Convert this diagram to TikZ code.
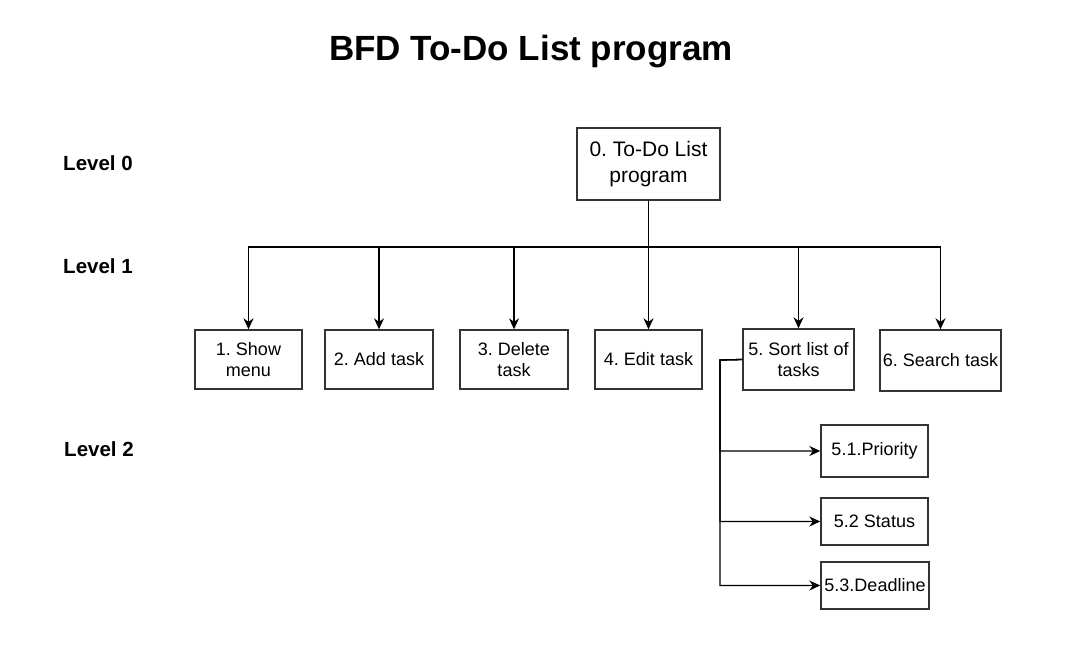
\documentclass[tikz,border=0pt]{standalone}
\usepackage{fontspec}
\setmainfont{Liberation Sans}
\usetikzlibrary{arrows.meta}
\begin{document}
\frenchspacing
\begin{tikzpicture}[x=1pt,y=-1pt,
  box/.style={draw=black!80, line width=1.4pt, fill=white, align=center, inner sep=0pt,
     font=\fontsize{18}{21}\selectfont},
  arr/.style={draw=black, line width=1.3pt, -{Stealth[length=11pt,width=10pt]}},
  lvl/.style={font=\fontsize{20.5}{24}\selectfont\bfseries},
]
\useasboundingbox (0,0) rectangle (1071,648);
\node[font=\fontsize{35}{40}\selectfont\bfseries] (title) at (531,52) {BFD To-Do List program};
\node[lvl] (l0) at (98,163) {Level 0};
\node[lvl] (l1) at (98,266) {Level 1};
\node[lvl] (l2) at (99,449) {Level 2};

\node[box, minimum width=143pt, minimum height=72pt, font=\fontsize{21}{26}\selectfont] (n0) at (648.5,164) {0. To-Do List\\program};
\node[box, minimum width=107pt, minimum height=59pt] (n1) at (248.5,359.5) {1. Show\\menu};
\node[box, minimum width=108pt, minimum height=59pt] (n2) at (379,359.5) {2. Add task};
\node[box, minimum width=108pt, minimum height=59pt] (n3) at (514,359.5) {3. Delete\\task};
\node[box, minimum width=107pt, minimum height=59pt] (n4) at (648.5,359.5) {4. Edit task};
\node[box, minimum width=111pt, minimum height=61pt] (n5) at (798.5,359.5) {5. Sort list of\\tasks};
\node[box, minimum width=121pt, minimum height=61pt] (n6) at (940.5,360.5) {6. Search task};
\node[box, minimum width=107pt, minimum height=52pt] (n51) at (874.5,451) {5.1.Priority};
\node[box, minimum width=107pt, minimum height=47pt] (n52) at (874.5,521.5) {5.2 Status};
\node[box, minimum width=108pt, minimum height=47pt] (n53) at (875,585.5) {5.3.Deadline};

\coordinate (bus) at (648.5,247);
\coordinate (side) at (720,360);
\foreach \n in {n1,n2,n3,n4,n5,n6}{
  \draw[arr] (n0.south) -- (bus) -| (\n.north);
}
\foreach \n in {n51,n52,n53}{
  \draw[arr] (n5.west) -- (side) |- (\n.west);
}
\end{tikzpicture}
\end{document}
